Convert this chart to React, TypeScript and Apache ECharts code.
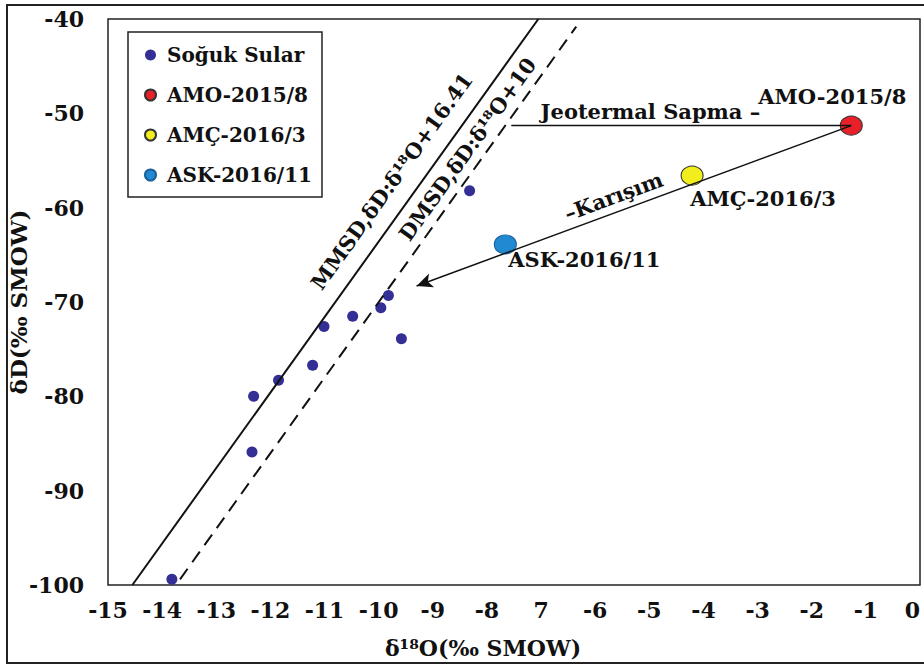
import React, { useEffect, useRef } from "react";
import * as echarts from "echarts";

const FONT = "DejaVu Serif";

// Soğuk Sular (cold waters): δ18O and δD values
const sogukSularO = [-8.32, -9.82, -9.96, -10.48, -9.58, -11.01, -11.22, -11.85, -12.31, -12.34, -13.82];
const sogukSularD = [-58.2, -69.3, -70.6, -71.5, -73.9, -72.6, -76.7, -78.3, -80.0, -85.9, -99.4];

// Thermal samples
const amoPoint = [-1.27, -51.3];
const amcPoint = [-4.21, -56.6];
const askPoint = [-7.66, -63.9];

// Reference lines (end points)
const mmsdLine = [[-14.55, -100], [-7.05, -40]];
const dmsdLine = [[-13.67, -99.4], [-6.35, -40.8]];
const jeotermalLine = [[-7.55, -51.3], [-1.27, -51.3]];
const karisimArrow = [[-1.27, -51.3], [-9.3, -68.3]];

// Tick labels
const xTickLabels = ["-15", "-14", "-13", "-12", "-11", "-10", "-9", "-8", "7", "-6", "-5", "-4", "-3", "-2", "-1", "0"];

// Annotation anchors (data coords)
const mmsdLabelPos = [-9.76, -57.2];
const dmsdLabelPos = [-8.36, -53.8];
const jeotermalLabelPos = [-4.98, -49.76];
const karisimLabelPos = [-5.66, -58.8];

const mmsdText = "MMSD,δD:δ¹⁸O+16.41";
const dmsdText = "DMSD,δD:δ¹⁸O+10";
const jeotermalText = "Jeotermal Sapma –";
const karisimText = "–Karışım";

export default function App() {
  const ref = useRef<HTMLDivElement>(null);

  useEffect(() => {
    if (!ref.current) return;
    const chart = echarts.init(ref.current, null, { renderer: "svg" });
    const textBase = { fontFamily: FONT, fontWeight: "bold" as const, color: "#111" };

    const bigLabel = (text: string, offset: number[]) => ({
      show: true,
      formatter: text,
      position: "inside",
      offset,
      fontFamily: FONT,
      fontWeight: "bold",
      fontSize: 21,
      color: "#111",
    });

    const option: any = {
      animation: false,
      backgroundColor: "#fff",
      grid: {
        left: 108,
        right: 4,
        top: 19,
        bottom: 80,
        show: true,
        borderColor: "#222",
        borderWidth: 1.5,
        containLabel: false,
        outerBoundsMode: "none",
      },
      legend: {
        orient: "vertical",
        left: 128,
        top: 32,
        width: 160,
        data: ["Soğuk Sular", "AMO-2015/8", "AMÇ-2016/3", "ASK-2016/11"],
        icon: "circle",
        itemWidth: 11,
        itemHeight: 11,
        itemGap: 14,
        padding: [10, 10, 9, 16],
        borderColor: "#222",
        borderWidth: 1.5,
        textStyle: { ...textBase, fontSize: 20, lineHeight: 26, padding: [0, 0, 0, 6] },
      },
      xAxis: {
        type: "value",
        min: -15,
        max: 0,
        interval: 1,
        name: "δ¹⁸O(‰ SMOW)",
        nameLocation: "middle",
        nameGap: 52,
        nameMoveOverlap: false,
        nameTextStyle: { ...textBase, fontSize: 22, padding: [0, 62, 0, 0] },
        axisLine: { show: false },
        axisTick: { show: false },
        splitLine: { show: false },
        axisLabel: {
          ...textBase,
          fontSize: 22,
          margin: 14,
          alignMaxLabel: "right",
          formatter: (_v: number, i: number) => xTickLabels[i],
        },
      },
      yAxis: {
        type: "value",
        min: -100,
        max: -40,
        interval: 10,
        name: "δD(‰ SMOW)",
        nameLocation: "middle",
        nameGap: 78,
        nameRotate: 90,
        nameMoveOverlap: false,
        nameTextStyle: { ...textBase, fontSize: 23 },
        axisLine: { show: false },
        axisTick: { show: false },
        splitLine: { show: false },
        axisLabel: { ...textBase, fontSize: 22, margin: 24 },
      },
      series: [
        {
          type: "line",
          name: "MMSD",
          data: mmsdLine,
          showSymbol: false,
          silent: true,
          lineStyle: { color: "#111", width: 2 },
        },
        {
          type: "line",
          name: "DMSD",
          data: dmsdLine,
          showSymbol: false,
          silent: true,
          lineStyle: { color: "#111", width: 2, type: [13, 8] },
        },
        {
          type: "line",
          name: "Jeotermal",
          data: jeotermalLine,
          showSymbol: false,
          silent: true,
          lineStyle: { color: "#111", width: 1.5 },
        },
        {
          type: "scatter",
          name: "Karışım",
          data: [],
          silent: true,
          markLine: {
            silent: true,
            symbol: ["none", "arrow"],
            symbolSize: [11, 16],
            label: { show: false },
            lineStyle: { color: "#111", width: 1.5, type: "solid" },
            data: [[{ coord: karisimArrow[0] }, { coord: karisimArrow[1] }]],
          },
        },
        {
          type: "scatter",
          name: "Soğuk Sular",
          data: sogukSularO.map((x, i) => [x, sogukSularD[i]]),
          symbolSize: 11,
          itemStyle: { color: "#332f95", opacity: 1 },
        },
        {
          type: "scatter",
          name: "AMO-2015/8",
          data: [amoPoint],
          symbolSize: [22, 19],
          itemStyle: { color: "#e8202a", borderColor: "#333", borderWidth: 1, opacity: 1 },
          label: bigLabel("AMO-2015/8", [-19, -29]),
        },
        {
          type: "scatter",
          name: "AMÇ-2016/3",
          data: [amcPoint],
          symbolSize: [22, 19],
          itemStyle: { color: "#f2ee1e", borderColor: "#333", borderWidth: 1, opacity: 1 },
          label: bigLabel("AMÇ-2016/3", [71, 23]),
        },
        {
          type: "scatter",
          name: "ASK-2016/11",
          data: [askPoint],
          symbolSize: [22, 19],
          itemStyle: { color: "#1f8ad2", borderColor: "#1a5f99", borderWidth: 1, opacity: 1 },
          label: bigLabel("ASK-2016/11", [79, 15]),
        },
      ],
    };

    chart.setOption(option);

    const px = (p: number[]) => chart.convertToPixel({ gridIndex: 0 }, p) as number[];
    const angleOf = (a: number[], b: number[]) => {
      const pa = px(a);
      const pb = px(b);
      return Math.atan2(pa[1] - pb[1], pb[0] - pa[0]);
    };
    const lineAngle = angleOf(mmsdLine[0], mmsdLine[1]);
    const mixAngle = angleOf(karisimArrow[1], karisimArrow[0]);

    const rotText = (pos: number[], text: string, rot: number, size: number) => {
      const p = px(pos);
      return {
        type: "text",
        x: p[0],
        y: p[1],
        rotation: rot,
        silent: true,
        style: {
          text,
          fontFamily: FONT,
          fontWeight: "bold",
          fontSize: size,
          fill: "#111",
          align: "center",
          verticalAlign: "middle",
        },
      };
    };

    chart.setOption({
      graphic: [
        {
          type: "rect",
          silent: true,
          shape: { x: 7, y: 5, width: 930, height: 658 },
          style: { fill: "none", stroke: "#222", lineWidth: 2 },
        },
        rotText(mmsdLabelPos, mmsdText, lineAngle, 21),
        rotText(dmsdLabelPos, dmsdText, lineAngle, 21),
        rotText(jeotermalLabelPos, jeotermalText, 0, 21),
        rotText(karisimLabelPos, karisimText, mixAngle, 21),
      ],
    });

    return () => chart.dispose();
  }, []);

  return (
    <div
      ref={ref}
      style={{ position: "fixed", left: 0, top: 0, width: 924, height: 665, background: "#fff" }}
    />
  );
}
